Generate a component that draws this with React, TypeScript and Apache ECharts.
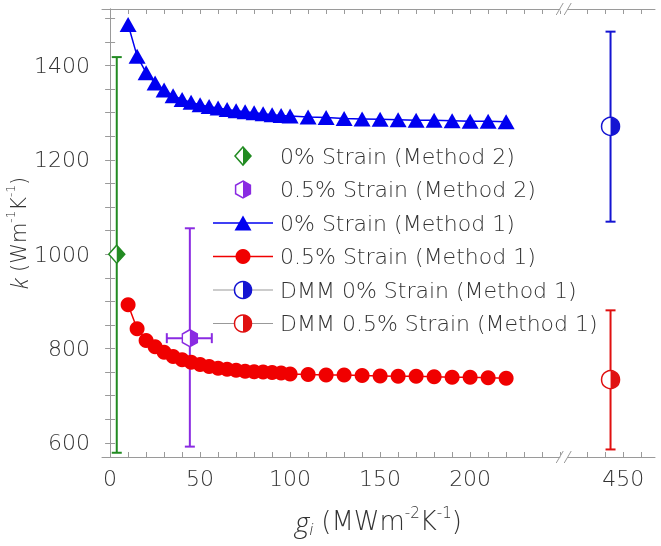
import { useEffect, useRef } from 'react';
import * as echarts from 'echarts';

// x axis is broken: real values above BREAK_AT are shifted left by BREAK_SHIFT
const BREAK_AT = 252;
const BREAK_SHIFT = 165;
const toAxis = (g: number) => (g > BREAK_AT ? g - BREAK_SHIFT : g);
const toReal = (v: number) => (v > BREAK_AT ? v + BREAK_SHIFT : v);

const gi = [
  10, 15, 20, 25, 30, 35, 40, 45, 50, 55, 60, 65, 70, 75, 80, 85, 90, 95, 100,
  110, 120, 130, 140, 150, 160, 170, 180, 190, 200, 210, 220,
];
const k0Method1 = [
  1487, 1420, 1385, 1363, 1348, 1336, 1328, 1322, 1317, 1313, 1310, 1307, 1304, 1302, 1300, 1298,
  1296, 1294, 1293, 1291, 1290, 1288, 1287, 1286, 1285, 1284, 1284, 1283, 1282, 1282, 1281,
];
const k05Method1 = [
  893, 842, 817, 804, 792, 783, 776, 771, 766, 762, 758, 756, 754, 752, 751, 750, 749, 748, 746,
  745, 744, 744, 743, 742, 741, 741, 740, 739, 739, 738, 737,
];

// [g, k, kLow, kHigh, gLow, gHigh]
const k0Method2 = [3.7, 1000, 579, 1418, 3.7, 3.7];
const k05Method2 = [44.3, 822, 592, 1055, 31.5, 56.5];
const dmm0 = [443, 1271, 1069, 1472, 443, 443];
const dmm05 = [443, 734, 586, 881, 443, 443];

const xMajor = [0, 50, 100, 150, 200, 450];
const xMinor = [
  0, 10, 20, 30, 40, 50, 60, 70, 80, 90, 100, 110, 120, 130, 140, 150, 160, 170, 180, 190, 200,
  210, 220, 230, 240, 250, 430, 440, 450, 460,
];
const yMajor = [600, 800, 1000, 1200, 1400];
const yMinor = [
  600, 650, 700, 750, 800, 850, 900, 950, 1000, 1050, 1100, 1150, 1200, 1250, 1300, 1350, 1400,
  1450, 1500,
];

const BLUE = '#0000f0';
const RED = '#f00000';
const GREEN = '#228b22';
const PURPLE = '#8a2be2';
const DMM_BLUE = '#1414d2';
const DMM_RED = '#e01010';
const AXIS = '#9a9a9a';
const TEXT = '#333333';
const FONT = "'DejaVu Sans', 'Open Sans', sans-serif";
const ITALIC_FONT = "'Open Sans', 'DejaVu Sans', sans-serif";
const WEIGHT = 200;

const HALF_CIRCLE = 'path://M0,0 A10,10 0 0 1 0,20 Z';
const HALF_DIAMOND = 'path://M0,0 L10,10 L0,20 Z';
const HEXAGON = 'path://M8.66,0 L17.32,5 L17.32,15 L8.66,20 L0,15 L0,5 Z';
const HALF_HEXAGON = 'path://M0,0 L8.66,5 L8.66,15 L0,20 Z';

function errorBars(name: string, row: number[], color: string) {
  return {
    type: 'custom',
    name,
    z: 2,
    encode: { x: 0, y: 1 },
    data: [[toAxis(row[0]), row[1], row[2], row[3], toAxis(row[4]), toAxis(row[5])]],
    renderItem: (_params: any, api: any) => {
      const x = api.value(0);
      const y = api.value(1);
      const top = api.coord([x, api.value(3)]);
      const bottom = api.coord([x, api.value(2)]);
      const style = { stroke: color, lineWidth: 2 };
      const cap = 5;
      const children: any[] = [
        { type: 'line', shape: { x1: top[0], y1: top[1], x2: bottom[0], y2: bottom[1] }, style },
        { type: 'line', shape: { x1: top[0] - cap, y1: top[1], x2: top[0] + cap, y2: top[1] }, style },
        { type: 'line', shape: { x1: bottom[0] - cap, y1: bottom[1], x2: bottom[0] + cap, y2: bottom[1] }, style },
      ];
      if (api.value(4) !== api.value(5)) {
        const left = api.coord([api.value(4), y]);
        const right = api.coord([api.value(5), y]);
        children.push(
          { type: 'line', shape: { x1: left[0], y1: left[1], x2: right[0], y2: right[1] }, style },
          { type: 'line', shape: { x1: left[0], y1: left[1] - cap, x2: left[0], y2: left[1] + cap }, style },
          { type: 'line', shape: { x1: right[0], y1: right[1] - cap, x2: right[0], y2: right[1] + cap }, style },
        );
      }
      return { type: 'group', children };
    },
  };
}

// half-filled marker: hollow full shape plus a filled right half on top
function halfMarker(name: string, row: number[], color: string, full: string, half: string, w: number, h: number) {
  const data = [[toAxis(row[0]), row[1]]];
  return [
    {
      type: 'scatter',
      name,
      z: 4,
      data,
      symbol: full,
      symbolSize: [w, h],
      itemStyle: { color: '#fff', borderColor: color, borderWidth: 1.5, opacity: 1 },
    },
    {
      type: 'scatter',
      name,
      z: 5,
      data,
      symbol: half,
      symbolSize: [w / 2, h],
      symbolOffset: [w / 4, 0],
      itemStyle: { color, opacity: 1 },
    },
  ];
}

const legendRows = [
  '0% Strain (Method 2)',
  '0.5% Strain (Method 2)',
  '0% Strain (Method 1)',
  '0.5% Strain (Method 1)',
  'DMM 0% Strain (Method 1)',
  'DMM 0.5% Strain (Method 1)',
];

function legendGraphic() {
  const cx = 243;
  const rows = legendRows.map((_, i) => 156 + i * 33.5);
  const els: any[] = [];
  const line = (y: number, stroke: string, lineWidth: number) => ({
    type: 'line',
    shape: { x1: 213, y1: y, x2: 273, y2: y },
    style: { stroke, lineWidth },
  });
  // row 1: diamond
  let y = rows[0];
  els.push(
    { type: 'polygon', shape: { points: [[cx, y - 9], [cx + 8, y], [cx, y + 9], [cx - 8, y]] }, style: { fill: '#fff', stroke: GREEN, lineWidth: 1.5 } },
    { type: 'polygon', shape: { points: [[cx, y - 9], [cx + 8, y], [cx, y + 9]] }, style: { fill: GREEN } },
  );
  // row 2: hexagon
  y = rows[1];
  const hx = 7.4;
  els.push(
    { type: 'polygon', shape: { points: [[cx, y - 8.5], [cx + hx, y - 4.25], [cx + hx, y + 4.25], [cx, y + 8.5], [cx - hx, y + 4.25], [cx - hx, y - 4.25]] }, style: { fill: '#fff', stroke: PURPLE, lineWidth: 1.5 } },
    { type: 'polygon', shape: { points: [[cx, y - 8.5], [cx + hx, y - 4.25], [cx + hx, y + 4.25], [cx, y + 8.5]] }, style: { fill: PURPLE } },
  );
  // row 3: line + triangle
  y = rows[2];
  els.push(line(y, BLUE, 1.5), { type: 'polygon', shape: { points: [[cx, y - 7.5], [cx + 8.5, y + 7.5], [cx - 8.5, y + 7.5]] }, style: { fill: BLUE } });
  // row 4: line + circle
  y = rows[3];
  els.push(line(y, RED, 1.5), { type: 'circle', shape: { cx, cy: y, r: 7.5 }, style: { fill: RED } });
  // rows 5, 6: half circles
  [[rows[4], DMM_BLUE], [rows[5], DMM_RED]].forEach(([yy, c]) => {
    const yv = yy as number;
    const col = c as string;
    els.push(
      line(yv, '#999', 1),
      { type: 'circle', shape: { cx, cy: yv, r: 8.5 }, style: { fill: '#fff', stroke: col, lineWidth: 1.5 } },
      { type: 'sector', shape: { cx, cy: yv, r0: 0, r: 8.5, startAngle: -Math.PI / 2, endAngle: Math.PI / 2, clockwise: true }, style: { fill: col } },
    );
  });
  legendRows.forEach((t, i) => {
    els.push({
      type: 'text',
      x: 280,
      y: rows[i],
      style: { text: t, fill: TEXT, font: `${WEIGHT} 22px ${FONT}`, verticalAlign: 'middle', align: 'left' },
    });
  });
  return els;
}

function breakMarks(cx: number, yTop: number, yBottom: number) {
  const els: any[] = [];
  [yTop, yBottom].forEach((y) => {
    els.push({ type: 'rect', shape: { x: cx - 3.5, y: y - 2, width: 7, height: 4 }, style: { fill: '#fff' }, z: 100 });
    [-4, 4].forEach((dx) => {
      els.push({
        type: 'line',
        z: 101,
        shape: { x1: cx + dx - 3.5, y1: y + 6, x2: cx + dx + 3.5, y2: y - 6 },
        style: { stroke: AXIS, lineWidth: 1 },
      });
    });
  });
  return els;
}

function richName(size: number) {
  const small = Math.round(size * 0.58);
  return {
    it: { fontStyle: 'italic', fontSize: size + 2, fontFamily: ITALIC_FONT, fontWeight: 300, color: TEXT, lineHeight: size + 6 },
    n: { fontSize: size, fontFamily: FONT, fontWeight: WEIGHT, color: TEXT, lineHeight: size + 6 },
    sup: { fontSize: small, fontFamily: FONT, fontWeight: WEIGHT, color: TEXT, verticalAlign: 'top', lineHeight: small + 1 },
    sub: { fontSize: small + 1, fontStyle: 'italic', fontFamily: ITALIC_FONT, fontWeight: 300, color: TEXT, verticalAlign: 'bottom', lineHeight: small + 1 },
  };
}

export default function App() {
  const ref = useRef<HTMLDivElement | null>(null);

  useEffect(() => {
    if (!ref.current) return undefined;
    const chart = echarts.init(ref.current, undefined, { renderer: 'svg' });

    const xTicks = xMinor.map(toAxis);
    const xAxisBase = {
      type: 'value',
      min: -4.5,
      max: 302.7,
      splitLine: { show: false },
      axisLine: { lineStyle: { color: AXIS, width: 1 } },
      axisTick: { inside: true, length: 5, customValues: xTicks, lineStyle: { color: AXIS } },
    };
    const yAxisBase = {
      type: 'value',
      min: 570,
      max: 1520,
      splitLine: { show: false },
      axisLine: { show: true, lineStyle: { color: AXIS, width: 1 } },
      axisTick: { show: true, inside: true, length: 5, customValues: yMinor, lineStyle: { color: AXIS } },
    };

    chart.setOption({
      animation: false,
      grid: { left: 102, top: 9, width: 553, height: 448, containLabel: false, outerBoundsMode: 'none' },
      xAxis: [
        {
          ...xAxisBase,
          position: 'bottom',
          axisLabel: {
            customValues: xMajor.map(toAxis),
            formatter: (v: number) => String(Math.round(toReal(v))),
            color: TEXT,
            fontSize: 22,
            fontFamily: FONT,
            fontWeight: WEIGHT,
            margin: 10,
          },
          name: '{it|g}{sub|i}{n| (MWm}{sup|-2}{n|K}{sup|-1}{n|)}',
          nameLocation: 'middle',
          nameGap: 48,
          nameMoveOverlap: false,
          nameTextStyle: { rich: richName(26) },
        },
        { ...xAxisBase, position: 'top', axisLabel: { show: false } },
      ],
      yAxis: [
        {
          ...yAxisBase,
          position: 'left',
          axisLabel: {
            customValues: yMajor,
            formatter: (v: number) => String(v),
            color: TEXT,
            fontSize: 22,
            fontFamily: FONT,
            fontWeight: WEIGHT,
            margin: 12,
          },
          name: '{it|k}{n| (Wm}{sup|-1}{n|K}{sup|-1}{n|)}',
          nameLocation: 'middle',
          nameGap: 70,
          nameMoveOverlap: false,
          nameTextStyle: { rich: richName(21) },
        },
        { ...yAxisBase, position: 'right', axisLabel: { show: false } },
      ],
      series: [
        errorBars('0% Strain (Method 2) error', k0Method2, GREEN),
        errorBars('0.5% Strain (Method 2) error', k05Method2, PURPLE),
        errorBars('DMM 0% Strain (Method 1) error', dmm0, DMM_BLUE),
        errorBars('DMM 0.5% Strain (Method 1) error', dmm05, DMM_RED),
        {
          type: 'line',
          name: '0% Strain (Method 1)',
          z: 3,
          data: gi.map((g, i) => [toAxis(g), k0Method1[i]]),
          symbol: 'triangle',
          symbolSize: [17, 15],
          showAllSymbol: true,
          itemStyle: { color: BLUE },
          lineStyle: { color: BLUE, width: 1.5 },
        },
        {
          type: 'line',
          name: '0.5% Strain (Method 1)',
          z: 3,
          data: gi.map((g, i) => [toAxis(g), k05Method1[i]]),
          symbol: 'circle',
          symbolSize: 15,
          showAllSymbol: true,
          itemStyle: { color: RED },
          lineStyle: { color: RED, width: 1.5 },
        },
        ...halfMarker('0% Strain (Method 2)', k0Method2, GREEN, 'diamond', HALF_DIAMOND, 16, 18),
        ...halfMarker('0.5% Strain (Method 2)', k05Method2, PURPLE, HEXAGON, HALF_HEXAGON, 15, 17),
        ...halfMarker('DMM 0% Strain (Method 1)', dmm0, DMM_BLUE, 'circle', HALF_CIRCLE, 18, 18),
        ...halfMarker('DMM 0.5% Strain (Method 1)', dmm05, DMM_RED, 'circle', HALF_CIRCLE, 18, 18),
      ],
      graphic: legendGraphic(),
    });

    const breakX = chart.convertToPixel({ xAxisIndex: 0 }, BREAK_AT) as number;
    const yTop = chart.convertToPixel({ yAxisIndex: 0 }, 1520) as number;
    const yBottom = chart.convertToPixel({ yAxisIndex: 0 }, 570) as number;
    chart.setOption({ graphic: [...legendGraphic(), ...breakMarks(breakX, yTop, yBottom)] });

    return () => chart.dispose();
  }, []);

  return <div ref={ref} style={{ position: 'fixed', left: 0, top: 0, width: 661, height: 546 }} />;
}
